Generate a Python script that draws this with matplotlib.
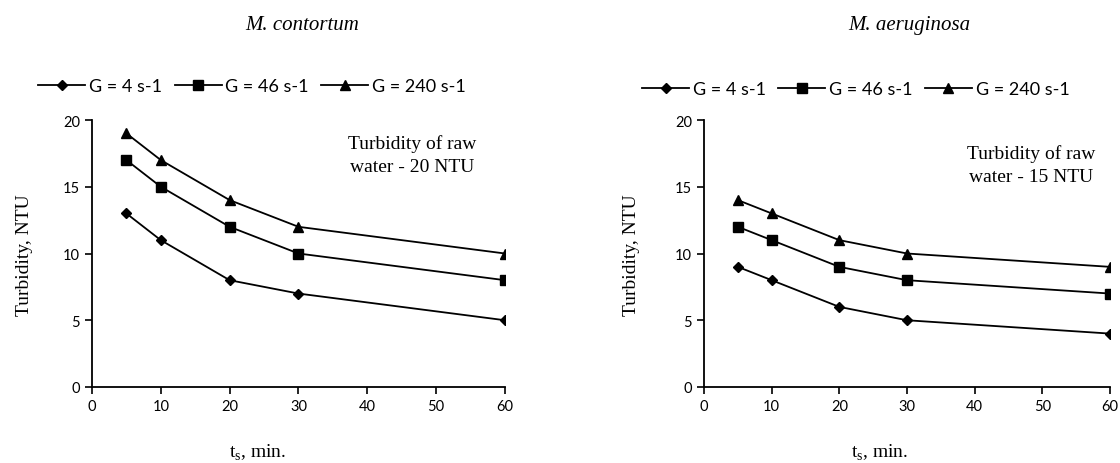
import matplotlib.pyplot as plt

t_min = [5, 10, 20, 30, 60]

# M. contortum
cont_g4 = [13, 11, 8, 7, 5]
cont_g46 = [17, 15, 12, 10, 8]
cont_g240 = [19, 17, 14, 12, 10]

# M. aeruginosa
aer_g4 = [9, 8, 6, 5, 4]
aer_g46 = [12, 11, 9, 8, 7]
aer_g240 = [14, 13, 11, 10, 9]

labels = ["G = 4 s-1", "G = 46 s-1", "G = 240 s-1"]
markers = ["D", "s", "^"]
msizes = [5, 6.5, 7]

SERIF = "Liberation Serif"
SANS = "Lato"

fig = plt.figure(figsize=(11.2, 4.64), dpi=100)

def draw_panel(rect, series, title, note, note_xy, title_x, leg_anchor, ylab_x, xlab_x):
    ax = fig.add_axes(rect)
    for vals, lab, m, ms in zip(series, labels, markers, msizes):
        ax.plot(t_min, vals, color="black", lw=1.3, marker=m, ms=ms, label=lab)
    ax.set_xlim(0, 60)
    ax.set_ylim(0, 20)
    ax.set_xticks(range(0, 61, 10))
    ax.set_yticks(range(0, 21, 5))
    for s in ["top", "right"]:
        ax.spines[s].set_visible(False)
    for s in ["left", "bottom"]:
        ax.spines[s].set_linewidth(1.3)
    ax.tick_params(direction="out", length=5, width=1.2, labelsize=10.5)
    for lab in ax.get_xticklabels() + ax.get_yticklabels():
        lab.set_fontfamily(SANS)
    fig.text(note_xy[0], note_xy[1], note, ha="center", va="center",
             fontsize=14, family=SERIF, linespacing=1.5)
    fig.text(title_x, 0.946, title, ha="center", va="center", fontsize=15, family=SERIF, style="italic")
    fig.text(ylab_x, 0.45, "Turbidity, NTU", ha="center", va="center", rotation=90, fontsize=14, family=SERIF)
    fig.text(xlab_x, 0.024, r"t$_\mathregular{s}$, min.", ha="center", va="center", fontsize=14, family=SERIF)
    ax.legend(loc="center", bbox_to_anchor=leg_anchor, bbox_transform=fig.transFigure, ncol=3,
              frameon=False, handlelength=2.6, columnspacing=0.7, handletextpad=0.2,
              borderaxespad=0, prop={"family": SANS, "size": 13})
    return ax

draw_panel([0.0821, 0.1638, 0.3688, 0.5754], [cont_g4, cont_g46, cont_g240],
           "M. contortum", "Turbidity of raw\nwater - 20 NTU", (0.368, 0.665), 0.270,
           (0.225, 0.812), 0.022, 0.230)
draw_panel([0.6286, 0.1638, 0.3625, 0.5754], [aer_g4, aer_g46, aer_g240],
           "M. aeruginosa", "Turbidity of raw\nwater - 15 NTU", (0.921, 0.643), 0.812,
           (0.764, 0.806), 0.564, 0.785)

fig.savefig("out.png", dpi=100)
